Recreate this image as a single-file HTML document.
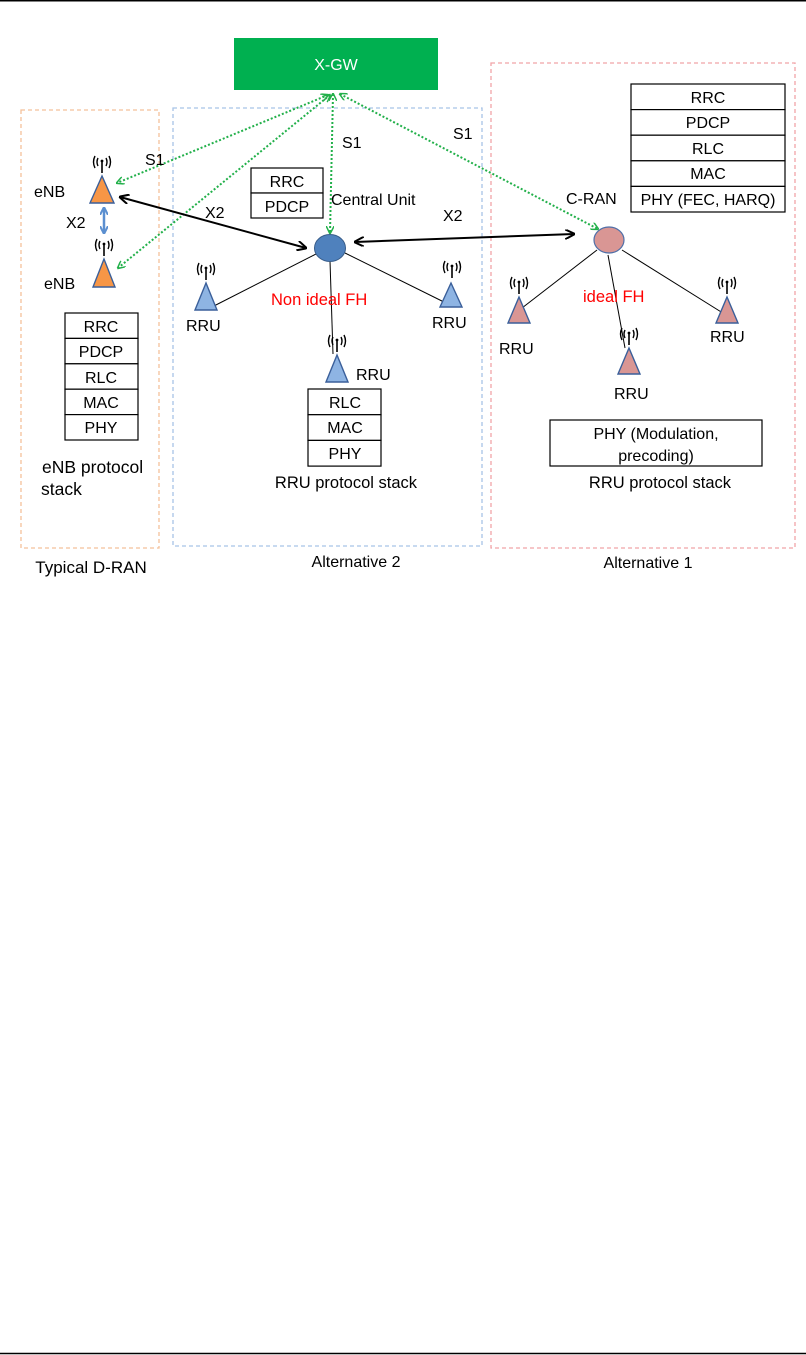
<!DOCTYPE html>
<html><head><meta charset="utf-8"><style>
html,body{margin:0;padding:0;background:#fff;}
svg{display:block;font-family:"Liberation Sans",sans-serif;}
</style></head><body>
<svg width="806" height="1355" viewBox="0 0 806 1355" xmlns="http://www.w3.org/2000/svg">
<defs>
<marker id="ga" markerWidth="8" markerHeight="8" refX="7" refY="4" orient="auto-start-reverse" markerUnits="userSpaceOnUse"><path d="M0,0 L8,4 L0,8" fill="none" stroke="#22b04a" stroke-width="1.5"/></marker>
<marker id="ka" markerWidth="10" markerHeight="10" refX="9" refY="5" orient="auto-start-reverse" markerUnits="userSpaceOnUse"><path d="M0,0 L10,5 L0,10" fill="none" stroke="#000" stroke-width="2"/></marker>
<marker id="ba" markerWidth="8" markerHeight="8" refX="7" refY="4" orient="auto-start-reverse" markerUnits="userSpaceOnUse"><path d="M0,0 L8,4 L0,8" fill="none" stroke="#5b8fd0" stroke-width="2"/></marker>
<g id="ant"><path d="M-4,-9 Q-6,-5 -4,-1 M4,-9 Q6,-5 4,-1 M-7,-11 Q-10,-5 -7,1 M7,-11 Q10,-5 7,1" fill="none" stroke="#000" stroke-width="1.4"/><line x1="0" y1="-7" x2="0" y2="6" stroke="#000" stroke-width="1.6"/><circle cx="0" cy="-6" r="1.4"/></g>
</defs>
<line x1="0" y1="0.7" x2="806" y2="0.7" stroke="#000" stroke-width="1.5"/>
<line x1="0" y1="1353.5" x2="806" y2="1353.5" stroke="#000" stroke-width="1.5"/>

<rect x="21" y="110" width="138" height="438" fill="none" stroke="#f4c19a" stroke-width="1.3" stroke-dasharray="4,3"/>
<rect x="173" y="108" width="309" height="438" fill="none" stroke="#a8c4e6" stroke-width="1.3" stroke-dasharray="4,3"/>
<rect x="491" y="63" width="304" height="485" fill="none" stroke="#f1a3a8" stroke-width="1.3" stroke-dasharray="4,3"/>

<rect x="234" y="38" width="204" height="52" fill="#00b050"/>
<text x="336" y="70" font-size="16" fill="#fff" text-anchor="middle">X-GW</text>

<g stroke="#22b04a" stroke-width="2" stroke-dasharray="2,2" fill="none">
<line x1="328" y1="95" x2="117" y2="183" marker-start="url(#ga)" marker-end="url(#ga)"/>
<line x1="330" y1="95" x2="118" y2="268" marker-start="url(#ga)" marker-end="url(#ga)"/>
<line x1="333" y1="94" x2="330" y2="233" marker-start="url(#ga)" marker-end="url(#ga)"/>
<line x1="340" y1="94" x2="598" y2="229" marker-start="url(#ga)" marker-end="url(#ga)"/>
</g>

<line x1="120" y1="197" x2="306" y2="248" stroke="#000" stroke-width="2" marker-start="url(#ka)" marker-end="url(#ka)"/>
<line x1="355" y1="242" x2="574" y2="234" stroke="#000" stroke-width="2" marker-start="url(#ka)" marker-end="url(#ka)"/>
<line x1="104" y1="208" x2="104" y2="233" stroke="#5b8fd0" stroke-width="2.5" marker-start="url(#ba)" marker-end="url(#ba)"/>

<g stroke="#000" stroke-width="1">
<line x1="318" y1="253" x2="210" y2="308"/>
<line x1="330" y1="261" x2="333" y2="354"/>
<line x1="345" y1="253" x2="452" y2="306"/>
<line x1="597" y1="250" x2="522" y2="308"/>
<line x1="608" y1="255" x2="625" y2="348"/>
<line x1="622" y1="250" x2="726" y2="315"/>
</g>

<ellipse cx="330" cy="248" rx="15.5" ry="13.5" fill="#4f81bd" stroke="#385d8a" stroke-width="1"/>
<ellipse cx="609" cy="240" rx="15" ry="13" fill="#d99694" stroke="#4f6fa8" stroke-width="1.2"/>

<g stroke="#3a5f9a" stroke-width="1.4">
<polygon points="102,176 90,203 114,203" fill="#f79646"/>
<polygon points="104,259 93,287 115,287" fill="#f79646"/>
<polygon points="206,283 195,310 217,310" fill="#8eb4e3"/>
<polygon points="451,283 440,307 462,307" fill="#8eb4e3"/>
<polygon points="337,355 326,382 348,382" fill="#8eb4e3"/>
<polygon points="519,297 508,323 530,323" fill="#d99694"/>
<polygon points="629,348 618,374 640,374" fill="#d99694"/>
<polygon points="727,297 716,323 738,323" fill="#d99694"/>
</g>
<use href="#ant" x="102" y="167"/>
<use href="#ant" x="104" y="250"/>
<use href="#ant" x="206" y="274"/>
<use href="#ant" x="452" y="272"/>
<use href="#ant" x="337" y="346"/>
<use href="#ant" x="519" y="288"/>
<use href="#ant" x="629" y="339"/>
<use href="#ant" x="727" y="288"/>

<g fill="#fff" stroke="#000" stroke-width="1.2">
<rect x="251" y="168" width="72" height="25"/><rect x="251" y="193" width="72" height="25"/>
<rect x="631" y="84" width="154" height="25.6"/><rect x="631" y="109.6" width="154" height="25.6"/><rect x="631" y="135.2" width="154" height="25.6"/><rect x="631" y="160.8" width="154" height="25.6"/><rect x="631" y="186.4" width="154" height="25.6"/>
<rect x="65" y="313" width="73" height="25.4"/><rect x="65" y="338.4" width="73" height="25.4"/><rect x="65" y="363.8" width="73" height="25.4"/><rect x="65" y="389.2" width="73" height="25.4"/><rect x="65" y="414.6" width="73" height="25.4"/>
<rect x="308" y="389" width="73" height="25.7"/><rect x="308" y="414.7" width="73" height="25.7"/><rect x="308" y="440.4" width="73" height="25.7"/>
<rect x="550" y="420" width="212" height="46"/>
</g>
<g font-size="16" text-anchor="middle" fill="#000">
<text x="287" y="187">RRC</text><text x="287" y="212">PDCP</text>
<text x="708" y="103">RRC</text><text x="708" y="128">PDCP</text><text x="708" y="154">RLC</text><text x="708" y="179">MAC</text><text x="708" y="205">PHY (FEC, HARQ)</text>
<text x="101" y="332">RRC</text><text x="101" y="357">PDCP</text><text x="101" y="383">RLC</text><text x="101" y="408">MAC</text><text x="101" y="433">PHY</text>
<text x="345" y="408">RLC</text><text x="345" y="433">MAC</text><text x="345" y="459">PHY</text>
<text x="656" y="439">PHY (Modulation,</text><text x="656" y="461">precoding)</text>
<text x="346" y="488" font-size="16.5">RRU protocol stack</text>
<text x="660" y="488" font-size="16.5">RRU protocol stack</text>
<text x="91" y="573" font-size="17">Typical D-RAN</text>
<text x="356" y="567">Alternative 2</text>
<text x="648" y="568">Alternative 1</text>
</g>
<g font-size="16" fill="#000">
<text x="34" y="197">eNB</text>
<text x="44" y="289">eNB</text>
<text x="66" y="228">X2</text>
<text x="145" y="165">S1</text>
<text x="205" y="218">X2</text>
<text x="342" y="148">S1</text>
<text x="453" y="139">S1</text>
<text x="331" y="205">Central Unit</text>
<text x="443" y="221">X2</text>
<text x="566" y="204">C-RAN</text>
<text x="186" y="331">RRU</text>
<text x="432" y="328">RRU</text>
<text x="356" y="380">RRU</text>
<text x="499" y="354">RRU</text>
<text x="614" y="399">RRU</text>
<text x="710" y="342">RRU</text>
<text x="42" y="473" font-size="17.5">eNB protocol</text>
<text x="41" y="495" font-size="17.5">stack</text>
</g>
<g font-size="16.5" fill="#ff0000">
<text x="271" y="305">Non ideal FH</text>
<text x="583" y="302">ideal FH</text>
</g>
</svg>
</body></html>
